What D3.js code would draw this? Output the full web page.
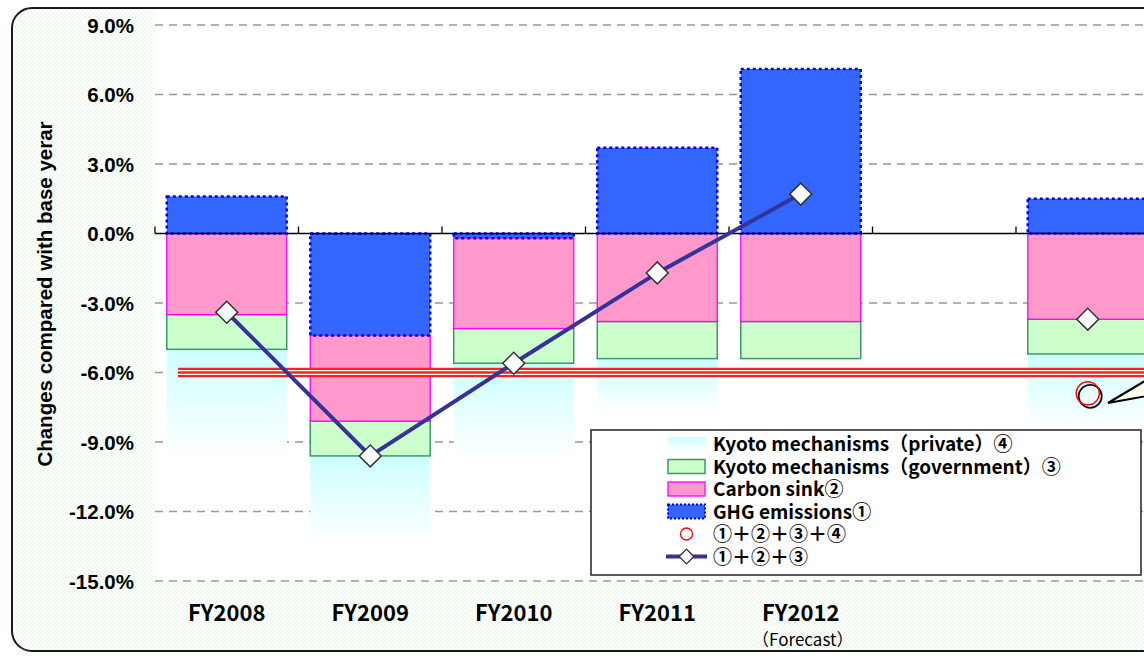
<!DOCTYPE html>
<html>
<head>
<meta charset="utf-8">
<script src="https://cdn.jsdelivr.net/npm/d3@7"></script>
<style>
  html, body { margin: 0; padding: 0; background: #fff; }
  svg { display: block; }
</style>
</head>
<body>
<svg id="chart" width="1144" height="656"></svg>
<script>
// Category slots along the x axis (the sixth slot is an empty gap)
const categories = ["FY2008", "FY2009", "FY2010", "FY2011", "FY2012", "gap", "avg"];
const categoryLabels = ["FY2008", "FY2009", "FY2010", "FY2011", "FY2012", "", ""];
const subLabels = ["", "", "", "", "（Forecast）", "", ""];

// Changes compared with base year (%), one value per category (null = no bar)
const ghgEmissions   = [1.6, -4.4, -0.2, 3.7, 7.1, null, 1.5];
const carbonSink     = [-3.5, -3.7, -3.9, -3.8, -3.8, null, -3.7];
const kyotoGov       = [-1.5, -1.5, -1.5, -1.6, -1.6, null, -1.5];
const kyotoPrivate   = [-4.6, -3.7, -4.1, -2.3, 0, null, -3.2];

// Which categories carry the ①+②+③ line and the ①+②+③+④ circle
const lineCategories   = ["FY2008", "FY2009", "FY2010", "FY2011", "FY2012"];
const diamondOnly      = ["avg"];
const circleCategories = ["avg"];

const target = -6.0;
const yTicks = [9, 6, 3, 0, -3, -6, -9, -12, -15];

const legendLabels = [
  "Kyoto mechanisms（private）④",
  "Kyoto mechanisms（government）③",
  "Carbon sink②",
  "GHG emissions①",
  "①＋②＋③＋④",
  "①＋②＋③"
];

const svg = d3.select("#chart");
const W = 1144, H = 656;

const plot = { left: 155, right: 1159.5, top: 25, bottom: 581 };

const x = d3.scaleBand()
  .domain(categories)
  .range([plot.left, plot.right])
  .paddingInner(0.164)
  .paddingOuter(0.082);

const y = d3.scaleLinear().domain([-15, 9]).range([plot.bottom, plot.top]);

const defs = svg.append("defs");

// light green dotted backdrop
const pat = defs.append("pattern")
  .attr("id", "dots").attr("width", 4).attr("height", 4)
  .attr("patternUnits", "userSpaceOnUse");
pat.append("rect").attr("width", 4).attr("height", 4).attr("fill", "#ffffff");
pat.append("circle").attr("cx", 1).attr("cy", 1).attr("r", 0.75).attr("fill", "#d2f4d2");
pat.append("circle").attr("cx", 3).attr("cy", 3).attr("r", 0.75).attr("fill", "#d2f4d2");

// private Kyoto credits fade from cyan to white
const grad = defs.append("linearGradient")
  .attr("id", "privGrad").attr("x1", 0).attr("y1", 0).attr("x2", 0).attr("y2", 1);
grad.append("stop").attr("offset", "0%").attr("stop-color", "#ccffff");
grad.append("stop").attr("offset", "100%").attr("stop-color", "#ffffff");

// outer frame with rounded corners
svg.append("rect")
  .attr("x", 12).attr("y", 8).attr("width", 1200).attr("height", 643)
  .attr("rx", 20).attr("ry", 20)
  .attr("fill", "url(#dots)").attr("stroke", "#1a1a1a").attr("stroke-width", 2);

// white plotting area
svg.append("rect")
  .attr("x", plot.left).attr("y", 10)
  .attr("width", W - plot.left + 20).attr("height", plot.bottom - 10)
  .attr("fill", "#ffffff");

// dashed horizontal gridlines
svg.append("g").selectAll("line")
  .data(yTicks.filter(t => t !== 0))
  .join("line")
  .attr("x1", plot.left).attr("x2", W + 20)
  .attr("y1", d => y(d)).attr("y2", d => y(d))
  .attr("stroke", "#999999").attr("stroke-width", 1.3)
  .attr("stroke-dasharray", "8,6");

// y tick labels
svg.append("g").selectAll("text")
  .data(yTicks)
  .join("text")
  .attr("x", 134).attr("y", d => y(d) + 7.5)
  .attr("text-anchor", "end")
  .attr("font-family", "Liberation Sans, Arial, sans-serif")
  .attr("font-weight", "bold").attr("font-size", 20.5)
  .attr("fill", "#000")
  .text(d => d.toFixed(1) + "%");

// y axis title
svg.append("text")
  .attr("transform", `translate(52, 294) rotate(-90)`)
  .attr("text-anchor", "middle")
  .attr("font-family", "Liberation Sans, Arial, sans-serif")
  .attr("font-weight", "bold").attr("font-size", 20.5)
  .attr("fill", "#000")
  .text("Changes compared with base yerar");

// build stacked segments: positive emissions above zero, everything else stacks downward
const segments = [];
categories.forEach((c, i) => {
  if (ghgEmissions[i] === null) return;
  let neg = 0;
  const g = ghgEmissions[i];
  segments.push({ c, kind: "ghg", y0: 0, y1: g });
  if (g < 0) neg = g;
  segments.push({ c, kind: "sink", y0: neg, y1: neg + carbonSink[i] }); neg += carbonSink[i];
  segments.push({ c, kind: "gov", y0: neg, y1: neg + kyotoGov[i] }); neg += kyotoGov[i];
  if (kyotoPrivate[i] !== 0) {
    segments.push({ c, kind: "priv", y0: neg, y1: neg + kyotoPrivate[i] });
  }
});

const styles = {
  ghg:  { fill: "#3366ff", stroke: "#0000ff", sw: 2.5, dash: "3,3" },
  sink: { fill: "#ff99cc", stroke: "#ff00ff", sw: 1.3, dash: null },
  gov:  { fill: "#ccffcc", stroke: "#3a9a68", sw: 1.5, dash: null },
  priv: { fill: "url(#privGrad)", stroke: "none", sw: 0, dash: null }
};

const order = ["priv", "gov", "sink", "ghg"];
svg.append("g").selectAll("rect")
  .data(segments.slice().sort((a, b) => order.indexOf(a.kind) - order.indexOf(b.kind)))
  .join("rect")
  .attr("x", d => x(d.c))
  .attr("width", x.bandwidth())
  .attr("y", d => y(Math.max(d.y0, d.y1)))
  .attr("height", d => Math.abs(y(d.y0) - y(d.y1)))
  .attr("fill", d => styles[d.kind].fill)
  .attr("stroke", d => styles[d.kind].stroke)
  .attr("stroke-width", d => styles[d.kind].sw)
  .attr("stroke-dasharray", d => styles[d.kind].dash);

// zero line with category dividers
svg.append("line")
  .attr("x1", plot.left).attr("x2", W + 20)
  .attr("y1", y(0)).attr("y2", y(0))
  .attr("stroke", "#000").attr("stroke-width", 1.5);
const step = x.step();
const dividers = d3.range(categories.length + 1).map(k => plot.left + k * step);
svg.append("g").selectAll("line")
  .data(dividers)
  .join("line")
  .attr("x1", d => d).attr("x2", d => d)
  .attr("y1", y(0)).attr("y2", y(0) - 7)
  .attr("stroke", "#000").attr("stroke-width", 1.3);

// -6% target band
const ty = y(target);
svg.append("line").attr("x1", 178).attr("x2", W + 20).attr("y1", ty).attr("y2", ty)
  .attr("stroke", "#ff2020").attr("stroke-width", 9.4);
svg.append("line").attr("x1", 178).attr("x2", W + 20).attr("y1", ty).attr("y2", ty)
  .attr("stroke", "#ffffff").attr("stroke-width", 4.8);
svg.append("line").attr("x1", 178).attr("x2", W + 20).attr("y1", ty).attr("y2", ty)
  .attr("stroke", "#ff2020").attr("stroke-width", 2.4);

// ①+②+③ and ①+②+③+④ totals
const total3 = categories.map((c, i) =>
  ghgEmissions[i] === null ? null : ghgEmissions[i] + carbonSink[i] + kyotoGov[i]);
const total4 = categories.map((c, i) =>
  ghgEmissions[i] === null ? null : total3[i] + kyotoPrivate[i]);
const cx = c => x(c) + x.bandwidth() / 2;

const linePts = lineCategories.map(c => [cx(c), y(total3[categories.indexOf(c)])]);
svg.append("path")
  .attr("d", d3.line()(linePts))
  .attr("fill", "none").attr("stroke", "#333399").attr("stroke-width", 4);

const diamond = d3.symbol().type(d3.symbolSquare).size(240);
svg.append("g").selectAll("path")
  .data(lineCategories.concat(diamondOnly))
  .join("path")
  .attr("d", diamond)
  .attr("transform", c => `translate(${cx(c)},${y(total3[categories.indexOf(c)])}) rotate(45)`)
  .attr("fill", "#ffffff").attr("stroke", "#333333").attr("stroke-width", 1.5);

// ①+②+③+④ marker with a dark offset ring
circleCategories.forEach(c => {
  const v = total4[categories.indexOf(c)];
  svg.append("circle").attr("cx", cx(c) + 2.5).attr("cy", y(v) + 3).attr("r", 11.5)
    .attr("fill", "none").attr("stroke", "#111").attr("stroke-width", 1.8);
  svg.append("circle").attr("cx", cx(c)).attr("cy", y(v)).attr("r", 11.5)
    .attr("fill", "none").attr("stroke", "#ff0000").attr("stroke-width", 1.5);
});

// callout pointer running off to the right
svg.append("path")
  .attr("d", "M1108,403 L1180,360 L1180,390 Z")
  .attr("fill", "#fffff4").attr("stroke", "#000").attr("stroke-width", 2.2)
  .attr("stroke-linejoin", "miter");

// category labels
const fontJP = "Noto Sans CJK JP, sans-serif";
svg.append("g").selectAll("text")
  .data(categories)
  .join("text")
  .attr("x", c => cx(c)).attr("y", 621)
  .attr("text-anchor", "middle")
  .attr("font-family", fontJP).attr("font-weight", "bold").attr("font-size", 22)
  .attr("fill", "#000")
  .text((c, i) => categoryLabels[i]);
svg.append("g").selectAll("text")
  .data(categories)
  .join("text")
  .attr("x", c => cx(c) + 2).attr("y", 646)
  .attr("text-anchor", "middle")
  .attr("font-family", fontJP).attr("font-size", 17)
  .attr("fill", "#000")
  .text((c, i) => subLabels[i]);

// legend
const lg = svg.append("g");
lg.append("rect").attr("x", 591).attr("y", 430).attr("width", 550).attr("height", 145)
  .attr("fill", "#fff").attr("stroke", "#222").attr("stroke-width", 1.5);
const rowY = d3.range(6).map(k => 444 + k * 22.5);
const sw = { x: 668, w: 37, h: 14 };
const swKinds = ["priv", "gov", "sink", "ghg"];
swKinds.forEach((k, i) => {
  lg.append("rect").attr("x", sw.x).attr("y", rowY[i] - sw.h / 2)
    .attr("width", sw.w).attr("height", sw.h)
    .attr("fill", styles[k].fill)
    .attr("stroke", styles[k].stroke).attr("stroke-width", Math.min(styles[k].sw, 2))
    .attr("stroke-dasharray", k === "ghg" ? "2,2" : null);
});
lg.append("circle").attr("cx", sw.x + sw.w / 2).attr("cy", rowY[4]).attr("r", 6)
  .attr("fill", "none").attr("stroke", "#ff0000").attr("stroke-width", 1.3);
lg.append("line").attr("x1", sw.x - 2).attr("x2", sw.x + sw.w + 2)
  .attr("y1", rowY[5]).attr("y2", rowY[5])
  .attr("stroke", "#333399").attr("stroke-width", 4);
lg.append("path").attr("d", d3.symbol().type(d3.symbolSquare).size(110))
  .attr("transform", `translate(${sw.x + sw.w / 2},${rowY[5]}) rotate(45)`)
  .attr("fill", "#fff").attr("stroke", "#333").attr("stroke-width", 1.3);
lg.selectAll("text.lbl")
  .data(legendLabels)
  .join("text")
  .attr("class", "lbl")
  .attr("x", 713).attr("y", (d, i) => rowY[i] + 7)
  .attr("font-family", fontJP).attr("font-weight", 700).attr("font-size", 19)
  .attr("fill", "#000")
  .text(d => d);
</script>
</body>
</html>
